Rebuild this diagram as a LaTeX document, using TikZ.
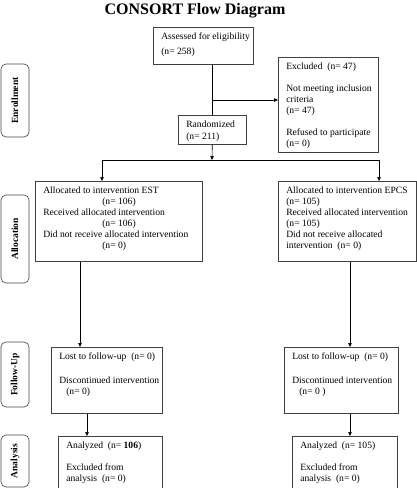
\documentclass[tikz,border=0pt]{standalone}
\usepackage{fontspec}
\setmainfont{Liberation Serif}
\usetikzlibrary{arrows.meta, positioning, calc}

% text block of a box: width, height, lines (top aligned)
\newcommand{\boxlines}[3]{%
  \parbox[c][#2][t]{\dimexpr#1-16pt\relax}{\vspace*{4.8pt}%
  \begin{tabular}{@{}l@{}}#3\end{tabular}}}

\begin{document}
\begin{tikzpicture}[
    x=1pt, y=-1pt,
    flowbox/.style={draw=black!75, line width=0.6pt, anchor=north west,
                    inner xsep=8pt, inner ysep=0pt,
                    font=\fontsize{9.6}{11}\selectfont},
    stage/.style={draw=black!75, line width=0.6pt, rounded corners=5pt,
                  rotate=90, minimum height=28pt, inner sep=0pt,
                  font=\bfseries\fontsize{9.5}{11}\selectfont},
    link/.style={line width=0.6pt},
    arr/.style={-{Triangle[length=4pt, width=3.5pt]}, line width=0.6pt}
]
\useasboundingbox (0,0) rectangle (417,488);

\node[font=\bfseries\fontsize{16}{18}\selectfont, anchor=base] (title)
    at (195,14) {CONSORT Flow Diagram};

% stages on the left
\node[stage, minimum width=73pt] (enroll) at (15,100.5) {Enrollment};
\node[stage, minimum width=88pt] (alloc) at (15,239) {Allocation};
\node[stage, minimum width=65pt] (follow) at (15,374.5) {Follow-Up};
\node[stage, minimum width=52pt] (analys) at (15,461) {Analysis};

% enrollment
\node[flowbox] (assess) at (153,27)
    {\boxlines{100pt}{37pt}{Assessed for eligibility\\[4pt] (n= 258)}};
\node[flowbox] (excl) at (278,57)
    {\boxlines{100pt}{95pt}{Excluded~ (n= 47)\\[11pt]
     Not meeting inclusion\\ criteria\\ (n= 47)\\[11pt]
     Refused to participate\\ (n= 0)}};
\node[flowbox] (rand) at (178,115)
    {\boxlines{68pt}{29pt}{Randomized\\[1pt] (n= 211)}};

% allocation
\node[flowbox] (est) at (35,181)
    {\boxlines{167pt}{80pt}{Allocated to intervention EST\\
     \hspace*{59pt}(n= 106)\\ Received allocated intervention\\
     \hspace*{59pt}(n= 106)\\ Did not receive allocated intervention\\
     \hspace*{59pt}(n= 0)}};
\node[flowbox] (epcs) at (278,181)
    {\boxlines{138pt}{80pt}{Allocated to intervention EPCS\\ (n= 105)\\
     Received allocated intervention\\ (n= 105)\\
     Did not receive allocated\\ intervention~ (n= 0)}};

% follow-up
\node[flowbox] (fuL) at (51,347)
    {\boxlines{111pt}{66pt}{Lost to follow-up~ (n= 0)\\[13pt]
     Discontinued intervention\\ \hspace*{7pt}(n= 0)}};
\node[flowbox] (fuR) at (284,347)
    {\boxlines{114pt}{66pt}{Lost to follow-up~ (n= 0)\\[13pt]
     Discontinued intervention\\ \hspace*{7pt}(n= 0 )}};

% analysis
\node[flowbox] (anL) at (58,436)
    {\boxlines{104pt}{60pt}{Analyzed~ (n= \textbf{106})\\[11pt]
     Excluded from\\ analysis~ (n= 0)}};
\node[flowbox] (anR) at (292,436)
    {\boxlines{105pt}{60pt}{Analyzed~ (n= 105)\\[11pt]
     Excluded from\\ analysis~ (n= 0)}};

% connectors
\coordinate (excbr) at (212,100);
\coordinate (split) at (212,160);
\coordinate (lsplit) at (102,160);
\coordinate (rsplit) at (379,160);
\coordinate (estout) at ([xshift=45pt]est.south west);
\coordinate (epcsout) at ([xshift=72pt]epcs.south west);
\coordinate (fuLout) at ([xshift=36pt]fuL.south west);
\coordinate (fuRout) at ([xshift=66pt]fuR.south west);

\draw[link] (assess.south -| rand.north) -- (rand.north);
\draw[arr] (excbr) -- (excbr -| excl.west);
\draw[arr] (rand.south) -- (split);
\draw[link] (lsplit) -- (rsplit);
\draw[arr] (lsplit) -- (lsplit |- est.north);
\draw[arr] (rsplit) -- (rsplit |- epcs.north);
\draw[arr] (estout) -- (estout |- fuL.north);
\draw[arr] (epcsout) -- (epcsout |- fuR.north);
\draw[arr] (fuLout) -- (fuLout |- anL.north);
\draw[arr] (fuRout) -- (fuRout |- anR.north);
\end{tikzpicture}
\end{document}
